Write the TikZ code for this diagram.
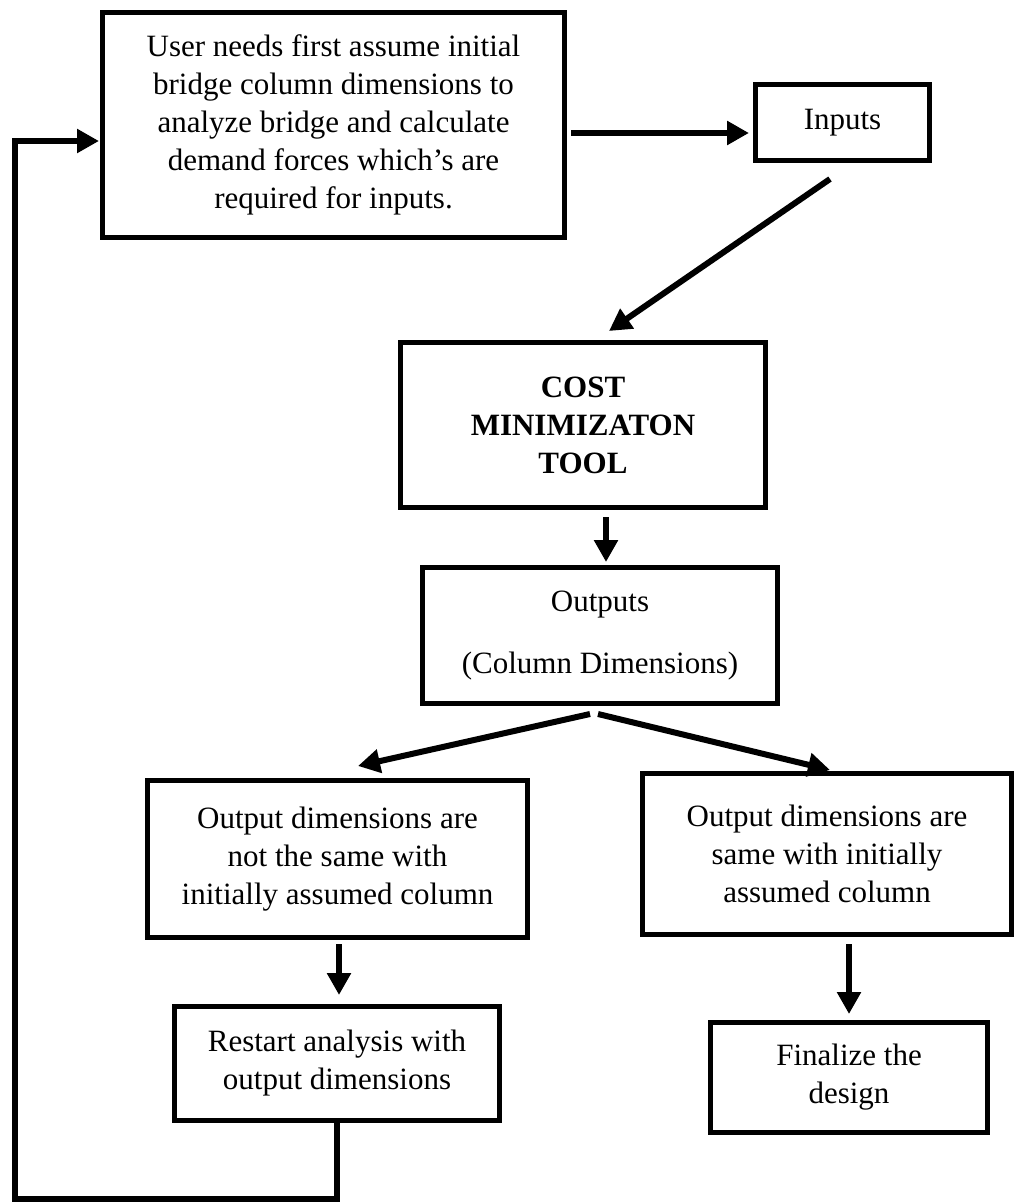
\documentclass[tikz,border=0pt]{standalone}
\usepackage{fontspec}
\setmainfont{Liberation Serif}
\usetikzlibrary{arrows.meta,calc}
\begin{document}
\begin{tikzpicture}[x=0.5pt,y=-0.5pt,
  box/.style={draw,line width=2.5pt,align=center,inner sep=0pt,
    font=\fontsize{15.5}{19}\selectfont},
  arr/.style={line width=3pt,-{Triangle[length=11pt,width=11.5pt]}},
  loopline/.style={line width=3pt}]
\useasboundingbox (0,0) rectangle (1016,1204);
\node[box,minimum width=231pt,minimum height=112.5pt] (boxA) at (333.5,125)
  {User needs first assume initial\\bridge column dimensions to\\analyze bridge and calculate\\demand forces which’s are\\required for inputs.};
\node[box,minimum width=87pt,minimum height=38pt] (inputs) at (842.5,122.5) {Inputs};
\node[box,minimum width=182.5pt,minimum height=82.5pt,font=\fontsize{15.5}{19}\selectfont\bfseries] (cost) at (583,425)
  {COST\\MINIMIZATON\\TOOL};
\node[box,minimum width=177.5pt,minimum height=68pt] (outputs) at (600,635.5)
  {Outputs\\[12pt](Column Dimensions)};
\node[box,minimum width=190pt,minimum height=78.5pt] (notsame) at (337.5,859)
  {Output dimensions are\\not the same with\\initially assumed column};
\node[box,minimum width=184.5pt,minimum height=80.5pt] (same) at (827,854)
  {Output dimensions are\\same with initially\\assumed column};
\node[box,minimum width=162.5pt,minimum height=57pt] (restart) at (337,1063.5)
  {Restart analysis with\\output dimensions};
\node[box,minimum width=138.5pt,minimum height=55pt] (final) at (849,1077.5)
  {Finalize the\\design};
% connector end points
\coordinate (a1) at (571,133);
\coordinate (a2) at (749,133);
\coordinate (b1) at (830,179);
\coordinate (b2) at (609,331);
\coordinate (c1) at (606,517);
\coordinate (c2) at (606,562);
\coordinate (d0) at (590,714);
\coordinate (d1) at (358,766);
\coordinate (e0) at (598,714);
\coordinate (e1) at (830,770);
\coordinate (f1) at (339,944);
\coordinate (f2) at (339,995);
\coordinate (g1) at (849,944);
\coordinate (g2) at (849,1014);
\coordinate (lb) at (15,1199);
\coordinate (ain) at (99,141);
\draw[arr] (a1) -- (a2);
\draw[arr] (b1) -- (b2);
\draw[arr] (c1) -- (c2);
\draw[arr] (d0) -- (d1);
\draw[arr] (e0) -- (e1);
\draw[arr] (f1) -- (f2);
\draw[arr] (g1) -- (g2);
\draw[arr] (restart.south) |- (lb) |- (ain);
\end{tikzpicture}
\end{document}
